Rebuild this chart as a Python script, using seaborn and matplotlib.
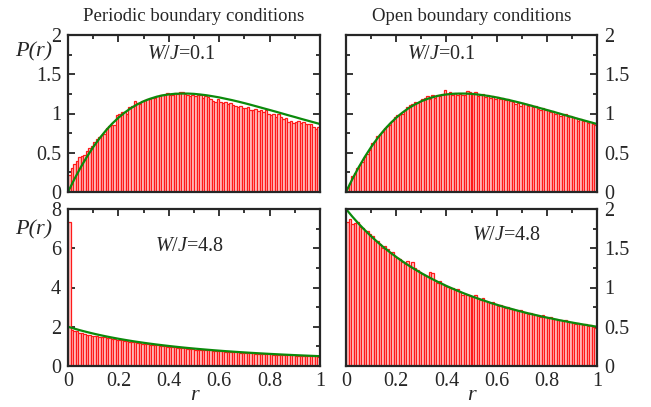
import numpy as np
import pandas as pd
import matplotlib
matplotlib.use("Agg")
import matplotlib.pyplot as plt
import seaborn as sns
from matplotlib.ticker import MultipleLocator, FuncFormatter

# bin centres of the histograms (width 0.01 on 0..1)
bin_centers = np.arange(100) * 0.01 + 0.005

# periodic boundary conditions, W/J = 0.1
pbc_w01 = [0.22, 0.30, 0.36, 0.40, 0.44, 0.46, 0.47, 0.52, 0.56, 0.58,
           0.64, 0.68, 0.70, 0.73, 0.74, 0.82, 0.84, 0.85, 0.85, 0.98,
           1.00, 1.02, 1.02, 0.99, 1.08, 1.10, 1.16, 1.14, 1.12, 1.16,
           1.17, 1.18, 1.19, 1.20, 1.20, 1.22, 1.24, 1.23, 1.24, 1.26,
           1.23, 1.24, 1.26, 1.25, 1.27, 1.27, 1.25, 1.24, 1.22, 1.23,
           1.22, 1.24, 1.23, 1.20, 1.22, 1.21, 1.19, 1.16, 1.15, 1.18,
           1.15, 1.13, 1.15, 1.12, 1.14, 1.11, 1.10, 1.08, 1.09, 1.07,
           1.07, 1.08, 1.05, 1.04, 1.06, 1.03, 1.05, 1.02, 1.04, 1.00,
           0.98, 1.00, 0.96, 0.99, 0.96, 0.93, 0.94, 0.89, 0.90, 0.88,
           0.89, 0.90, 0.88, 0.89, 0.86, 0.87, 0.86, 0.83, 0.80, 0.83]

# open boundary conditions, W/J = 0.1
obc_w01 = [0.06, 0.12, 0.20, 0.24, 0.30, 0.34, 0.38, 0.44, 0.49, 0.53,
           0.62, 0.65, 0.71, 0.74, 0.76, 0.81, 0.84, 0.85, 0.90, 0.95,
           0.98, 1.00, 0.99, 1.04, 1.08, 1.11, 1.12, 1.15, 1.13, 1.16,
           1.18, 1.20, 1.22, 1.19, 1.23, 1.20, 1.24, 1.22, 1.25, 1.30,
           1.25, 1.27, 1.23, 1.26, 1.24, 1.25, 1.23, 1.24, 1.29, 1.27,
           1.26, 1.27, 1.22, 1.23, 1.25, 1.21, 1.23, 1.20, 1.22, 1.19,
           1.21, 1.18, 1.20, 1.17, 1.19, 1.16, 1.15, 1.12, 1.14, 1.10,
           1.14, 1.12, 1.09, 1.11, 1.08, 1.09, 1.06, 1.05, 1.07, 1.05,
           1.05, 1.02, 1.03, 0.99, 1.01, 0.97, 0.98, 0.99, 0.95, 0.97,
           0.95, 0.94, 0.91, 0.93, 0.90, 0.91, 0.88, 0.89, 0.86, 0.85]

# periodic boundary conditions, W/J = 4.8
pbc_w48 = [7.32, 1.85, 1.79, 1.76, 1.70, 1.66, 1.64, 1.58, 1.60, 1.55,
           1.52, 1.55, 1.49, 1.47, 1.46, 1.42, 1.41, 1.38, 1.36, 1.34,
           1.32, 1.30, 1.27, 1.25, 1.24, 1.21, 1.20, 1.17, 1.16, 1.14,
           1.13, 1.11, 1.09, 1.08, 1.06, 1.05, 1.03, 1.02, 1.00, 0.99,
           0.97, 0.96, 0.95, 0.93, 0.92, 0.90, 0.90, 0.88, 0.87, 0.86,
           0.84, 0.84, 0.82, 0.82, 0.80, 0.79, 0.79, 0.77, 0.77, 0.76,
           0.74, 0.74, 0.73, 0.72, 0.71, 0.70, 0.70, 0.69, 0.68, 0.68,
           0.66, 0.65, 0.65, 0.64, 0.63, 0.62, 0.62, 0.61, 0.61, 0.60,
           0.59, 0.58, 0.58, 0.57, 0.57, 0.56, 0.56, 0.55, 0.55, 0.54,
           0.53, 0.53, 0.52, 0.52, 0.51, 0.50, 0.50, 0.49, 0.49, 0.48]

# open boundary conditions, W/J = 4.8
obc_w48 = [1.84, 1.87, 1.81, 1.82, 1.83, 1.77, 1.76, 1.72, 1.72, 1.68,
           1.66, 1.61, 1.59, 1.55, 1.50, 1.53, 1.49, 1.44, 1.45, 1.40,
           1.37, 1.36, 1.33, 1.30, 1.34, 1.27, 1.33, 1.25, 1.22, 1.20,
           1.17, 1.16, 1.15, 1.20, 1.18, 1.10, 1.06, 1.08, 1.04, 1.02,
           1.01, 0.99, 1.00, 0.97, 0.98, 0.94, 0.91, 0.92, 0.90, 0.89,
           0.88, 0.90, 0.86, 0.84, 0.86, 0.83, 0.81, 0.80, 0.82, 0.79,
           0.77, 0.78, 0.76, 0.74, 0.75, 0.73, 0.72, 0.71, 0.70, 0.71,
           0.69, 0.68, 0.66, 0.67, 0.66, 0.65, 0.64, 0.63, 0.65, 0.62,
           0.61, 0.62, 0.60, 0.60, 0.59, 0.58, 0.57, 0.58, 0.56, 0.56,
           0.55, 0.54, 0.55, 0.53, 0.52, 0.53, 0.51, 0.52, 0.50, 0.49]

# green reference curves, read at r = 0, 0.025, ..., 1
r_curve = np.linspace(0, 1, 41)
goe_curve = [0.000, 0.162, 0.312, 0.448, 0.572, 0.683, 0.782, 0.870, 0.946, 1.012,
             1.069, 1.116, 1.156, 1.187, 1.212, 1.231, 1.243, 1.251, 1.254, 1.254,
             1.250, 1.242, 1.232, 1.219, 1.205, 1.188, 1.171, 1.152, 1.132, 1.111,
             1.089, 1.067, 1.045, 1.023, 1.000, 0.977, 0.955, 0.932, 0.910, 0.888,
             0.866]
poisson_curve = [2.000, 1.904, 1.814, 1.731, 1.653, 1.580, 1.512, 1.449, 1.389, 1.333,
                 1.280, 1.230, 1.183, 1.139, 1.097, 1.058, 1.020, 0.985, 0.951, 0.919,
                 0.889, 0.860, 0.833, 0.806, 0.781, 0.757, 0.735, 0.713, 0.692, 0.672,
                 0.653, 0.635, 0.617, 0.601, 0.584, 0.569, 0.554, 0.540, 0.526, 0.513,
                 0.500]

titles = ["Periodic boundary conditions", "Open boundary conditions"]

sns.set_style("ticks")
plt.rcParams["font.family"] = ["Liberation Serif", "DejaVu Serif"]
plt.rcParams["mathtext.fontset"] = "custom"
plt.rcParams["mathtext.rm"] = "Liberation Serif"
plt.rcParams["mathtext.it"] = "Liberation Serif:italic"

fig = plt.figure(figsize=(6.51, 4.07), dpi=100)
W, H = 651, 407


def add_axes(x0, x1, ytop, ybot):
    return fig.add_axes([x0 / W, 1 - ybot / H, (x1 - x0) / W, (ybot - ytop) / H])


ax_tl = add_axes(68, 320, 35, 192)
ax_tr = add_axes(346, 597, 35, 192)
ax_bl = add_axes(68, 320, 209, 366)
ax_br = add_axes(346, 597, 209, 366)

panels = [
    (ax_tl, pbc_w01, goe_curve, 2, r"$W/J$=0.1", (0.313, 0.873), False),
    (ax_tr, obc_w01, goe_curve, 2, r"$W/J$=0.1", (0.243, 0.873), True),
    (ax_bl, pbc_w48, poisson_curve, 8, r"$W/J$=4.8", (0.345, 0.758), False),
    (ax_br, obc_w48, poisson_curve, 2, r"$W/J$=4.8", (0.50, 0.834), True),
]

fmt = FuncFormatter(lambda v, p: "%g" % v)

for ax, hist, curve, ymax, label, pos, right in panels:
    df = pd.DataFrame({"r": bin_centers, "p": hist})
    sns.histplot(data=df, x="r", weights="p", binwidth=0.01, binrange=(0, 1),
                 stat="count", ax=ax, facecolor="#ffcccc", edgecolor="#ff1a1a",
                 linewidth=0.9, alpha=1)
    sns.lineplot(x=r_curve, y=curve, ax=ax, color="#0b8a0b", linewidth=1.6)
    ax.set_xlim(0, 1)
    ax.set_ylim(0, ymax)
    ax.set_xlabel("")
    ax.set_ylabel("")
    ax.xaxis.set_major_locator(MultipleLocator(0.2))
    ax.xaxis.set_minor_locator(MultipleLocator(0.1))
    ax.yaxis.set_major_locator(MultipleLocator(ymax / 4))
    ax.yaxis.set_minor_locator(MultipleLocator(ymax / 8))
    ax.xaxis.set_major_formatter(fmt)
    ax.yaxis.set_major_formatter(fmt)
    ax.tick_params(which="both", direction="in", top=True, bottom=True,
                   left=True, right=True, width=1.3, labelsize=14.5,
                   labelleft=not right, labelright=right)
    ax.tick_params(axis="y", pad=5)
    ax.tick_params(axis="x", pad=4)
    ax.tick_params(which="major", length=5)
    ax.tick_params(which="minor", length=2.8)
    for s in ax.spines.values():
        s.set_linewidth(1.6)
        s.set_visible(True)
    ax.text(pos[0], pos[1], label, transform=ax.transAxes, fontsize=14.5,
            ha="left", va="center")

for ax in (ax_tl, ax_tr):
    ax.tick_params(labelbottom=False)

ax_tl.set_title(titles[0], fontsize=13.5, pad=10)
ax_tr.set_title(titles[1], fontsize=13.5, pad=10)

for ax in (ax_bl, ax_br):
    ax.set_xlabel("r", fontsize=16, fontstyle="italic", labelpad=-3)

fig.text(15 / W, 1 - 52 / H, "P(r)", fontsize=16, fontstyle="italic",
         ha="left", va="center")
fig.text(15 / W, 1 - 230 / H, "P(r)", fontsize=16, fontstyle="italic",
         ha="left", va="center")

fig.savefig("out.png", dpi=100)
